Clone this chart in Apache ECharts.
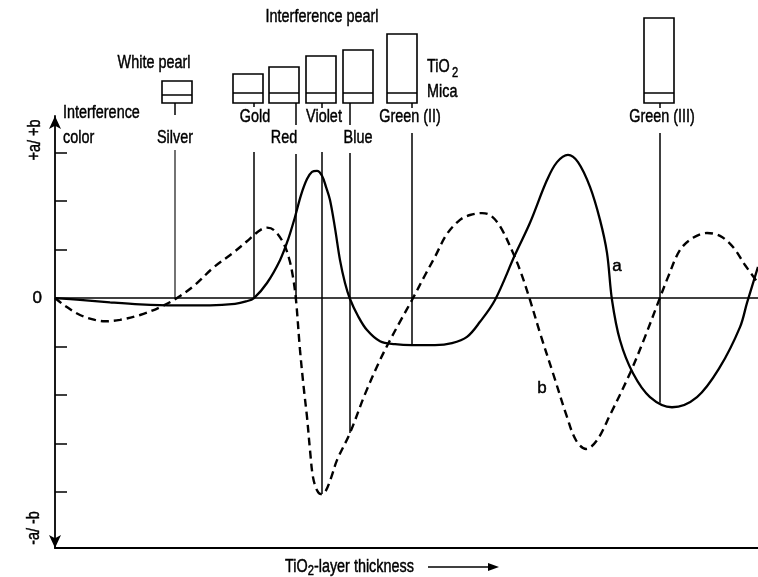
<!DOCTYPE html>
<html><head><meta charset="utf-8">
<script src="https://cdn.jsdelivr.net/npm/echarts@6/dist/echarts.min.js"></script>
<style>html,body{margin:0;padding:0;background:#fff}#c{width:758px;height:577px}</style>
</head><body><div id="c"></div>
<script>
// curve a (solid): [TiO2 thickness, colour value]
const curveA = [[0,0],[25,-0.04],[55,-0.09],[85,-0.13],[120,-0.15],[155,-0.15],[180,-0.12],[191,-0.07],[199,0],
  [212,0.31],[225,0.78],[233,1.20],[240,1.67],[246,2.12],[252,2.45],[257,2.60],[262,2.62],[267,2.52],[271,2.29],
  [275,2.02],[280,1.44],[285,0.78],[290,0.31],[295,-0.02],[303,-0.37],[312,-0.66],[325,-0.89],[340,-0.95],
  [357,-0.97],[380,-0.97],[397,-0.93],[412,-0.80],[425,-0.49],[440,-0.04],[460,0.89],[475,1.55],[492,2.43],
  [502,2.80],[513,2.95],[523,2.80],[535,2.29],[545,1.61],[552,0.93],[557,-0.04],[565,-0.87],[578,-1.55],
  [595,-2.04],[617,-2.25],[642,-2.04],[665,-1.42],[685,-0.60],[692,-0.10],[703,0.64]];
// curve b (dashed)
const curveB = [[0,0],[10,-0.16],[25,-0.35],[40,-0.45],[50,-0.48],[65,-0.45],[85,-0.35],[105,-0.19],[122,0],
  [140,0.27],[158,0.62],[178,0.93],[192,1.17],[199,1.30],[206,1.41],[212,1.45],[219,1.40],[228,1.15],[234,0.82],
  [238,0.43],[241,-0.04],[245,-1.07],[249,-1.90],[252,-2.45],[255,-3.13],[258,-3.69],[262,-3.96],[266,-4.04],
  [270,-4.00],[276,-3.71],[282,-3.34],[295,-2.78],[310,-1.98],[325,-1.28],[335,-0.87],[346,-0.45],[357,-0.04],
  [370,0.47],[380,0.85],[392,1.32],[405,1.61],[415,1.71],[427,1.75],[435,1.71],[445,1.48],[458,0.93],[466,0.52],
  [475,-0.04],[485,-0.72],[498,-1.55],[512,-2.45],[521,-2.93],[531,-3.11],[542,-2.93],[555,-2.41],[575,-1.55],
  [590,-0.80],[603,-0.10],[613,0.43],[625,0.99],[638,1.24],[652,1.34],[665,1.28],[678,1.05],[690,0.68],[703,0.31]];
// interference colours
const colorNames = ['Silver','Gold','Red','Violet','Blue','Green (II)','Green (III)'];
const colorThickness = [120,199,241,267,295,357,605];
const colorValue = [0,0,0,-4.04,-2.78,-0.97,-2.16];
// pearl pigment schematic (box position, relative TiO2+mica layer height)
const pearlBoxPos = [122,193,229,266,303,347,604];
const pearlLayer = [22,29,36,47,53,69,85];
const yTicks = [-4,-3,-2,-1,1,2,3];

const Y_MIN = -5.15, Y_MAX = 3.75, X_MAX = 703;
const FONT = "'Liberation Sans','Arial',sans-serif";
const FS = 18, SX = 0.8;
// layout helpers (not data)
const labelPos = [120,200,229,269,303,355,607];
const labelRow = [1,0,1,0,1,0,0];
const stemEnd = [115,107,125,108,125,108,108];
const lineTop = [150,152,154,152,153,133,133];

function tstyle(s, align, size) {
  return {text: s, x: 0, y: 0, align: align || 'center', verticalAlign: 'middle', fontSize: size || FS,
    fontFamily: FONT, fill: '#000', stroke: '#000', lineWidth: 0.45};
}
function txt(x, y, s, align, extra) {
  return Object.assign({type: 'text', x: x, y: y, scaleX: SX, style: tstyle(s, align)}, extra || {});
}

const chart = echarts.init(document.getElementById('c'));
chart.setOption({
  animation: false,
  backgroundColor: '#fff',
  grid: {left: 55, right: 0, top: 116, bottom: 29, containLabel: false},
  xAxis: {type: 'value', min: 0, max: X_MAX,
    axisLine: {onZero: false, lineStyle: {color: '#000', width: 2}},
    axisTick: {show: false}, axisLabel: {show: false}, splitLine: {show: false}},
  yAxis: {type: 'value', min: Y_MIN, max: Y_MAX,
    axisLine: {show: true, symbol: ['arrow','arrow'], symbolSize: [9, 13], lineStyle: {color: '#000', width: 1.8}},
    axisTick: {show: true, inside: true, length: 12, customValues: yTicks, lineStyle: {color: '#000', width: 1.5}},
    axisLabel: {customValues: [0], margin: 13, color: '#000', fontSize: 17, fontFamily: FONT, textBorderColor: '#000', textBorderWidth: 0.45},
    splitLine: {show: false}},
  series: [
    {type: 'line', name: 'a', data: curveA, smooth: 0.35, showSymbol: false, symbol: 'none',
      lineStyle: {color: '#000', width: 2.3},
      markLine: {silent: true, symbol: ['none','none'], label: {show: false},
        lineStyle: {color: '#000', width: 1.6, type: 'solid'}, data: [{yAxis: 0}]},
      markPoint: {symbol: 'circle', symbolSize: 1, itemStyle: {color: 'transparent'},
        label: {show: true, position: 'inside', formatter: 'a', color: '#000', fontSize: 17, fontFamily: FONT, textBorderColor: '#000', textBorderWidth: 0.45},
        data: [{coord: [562, 0.66]}]}},
    {type: 'line', name: 'b', data: curveB, smooth: 0.35, showSymbol: false, symbol: 'none',
      lineStyle: {color: '#000', width: 2.4, type: [8, 5]},
      markPoint: {symbol: 'circle', symbolSize: 1, itemStyle: {color: 'transparent'},
        label: {show: true, position: 'inside', formatter: 'b', color: '#000', fontSize: 17, fontFamily: FONT, textBorderColor: '#000', textBorderWidth: 0.45},
        data: [{coord: [487, -1.86]}]}},
    {type: 'custom', clip: false, encode: {x: 0, y: 1},
      data: colorNames.map((n, i) => [colorThickness[i], colorValue[i], pearlBoxPos[i], pearlLayer[i]]),
      renderItem: function (params, api) {
        const i = params.dataIndex;
        const top = api.coord([0, Y_MAX])[1];
        const boxBottom = top - 13;
        const lx = api.coord([api.value(0), 0])[0];
        const ly = api.coord([api.value(0), api.value(1)])[1];
        const bx = api.coord([api.value(2), 0])[0];
        const h = api.value(3);
        const tx = api.coord([labelPos[i], 0])[0];
        const ty = labelRow[i] ? 138 : 117;
        const band = i === 0 ? 8 : 10;
        const st = {stroke: '#000', lineWidth: 1.5, fill: 'none'};
        return {type: 'group', children: [
          {type: 'rect', shape: {x: bx - 15, y: boxBottom - h, width: 30, height: h}, style: {stroke: '#000', lineWidth: 1.6, fill: '#fff'}},
          {type: 'line', shape: {x1: bx - 15, y1: boxBottom - band, x2: bx + 15, y2: boxBottom - band}, style: st},
          {type: 'line', shape: {x1: lx, y1: boxBottom, x2: lx, y2: stemEnd[i]}, style: st},
          {type: 'line', shape: {x1: lx, y1: lineTop[i], x2: lx, y2: ly}, style: {stroke: '#000', lineWidth: i === 0 ? 1.1 : 1.5}},
          {type: 'text', x: tx, y: ty, scaleX: SX, style: tstyle(colorNames[i])}
        ]};
      }}
  ],
  graphic: [
    txt(322, 17, 'Interference pearl'),
    txt(154, 63, 'White pearl'),
    txt(427, 67, 'TiO', 'left'),
    {type: 'text', x: 452, y: 73, scaleX: SX, style: tstyle('2', 'left', 14)},
    txt(427, 92, 'Mica', 'left'),
    txt(63, 113, 'Interference', 'left'),
    txt(63, 138, 'color', 'left'),
    {type: 'text', x: 35, y: 140, rotation: Math.PI / 2, scaleX: SX, style: tstyle('+a/ +b')},
    {type: 'text', x: 34, y: 528, rotation: Math.PI / 2, scaleX: SX, style: tstyle('-a/ -b')},
    {type: 'text', x: 285, y: 567, scaleX: SX, style: {text: '{n|TiO}{s|2}{n|-layer thickness}', x: 0, y: 0, align: 'left', verticalAlign: 'middle',
      rich: {n: {fontSize: FS, fontFamily: FONT, fill: '#000', stroke: '#000', lineWidth: 0.45},
             s: {fontSize: 14, fontFamily: FONT, fill: '#000', stroke: '#000', lineWidth: 0.45, padding: [9, 0, 0, 0]}}}},
    {type: 'line', shape: {x1: 428, y1: 567, x2: 490, y2: 567}, style: {stroke: '#000', lineWidth: 1.5}},
    {type: 'polygon', shape: {points: [[488, 563], [499, 567], [488, 571]]}, style: {fill: '#000'}}
  ]
});
</script></body></html>
